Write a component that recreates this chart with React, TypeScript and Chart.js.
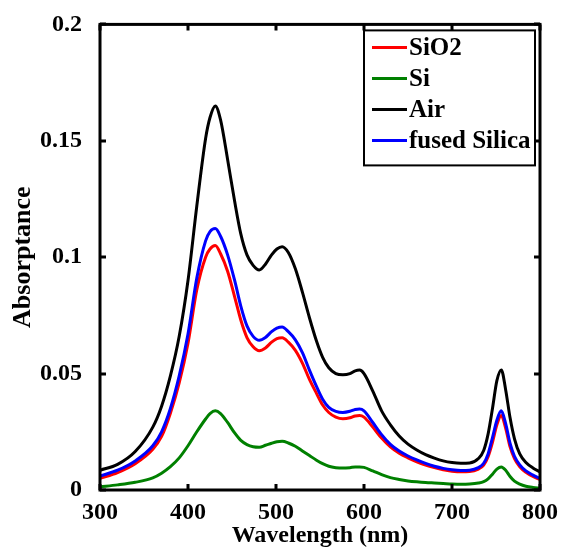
import { useEffect, useRef } from "react";
import { Chart, registerables } from "chart.js";

Chart.register(...registerables);

const wavelengths = [300, 320, 340, 360, 370, 380, 390, 400, 410, 420, 425, 431, 437, 445, 453, 460, 467, 474, 481, 488, 495, 501, 507, 514, 522, 530, 538, 546, 553, 560, 568, 576, 584, 590, 595, 600, 610, 620, 630, 640, 650, 660, 670, 680, 690, 700, 710, 720, 730, 736, 741, 746, 751, 756, 761, 766, 771, 777, 784, 792, 800];

const sio2 = [0.005, 0.0075, 0.0113, 0.0175, 0.023, 0.033, 0.046, 0.063, 0.086, 0.100, 0.1035, 0.105, 0.1015, 0.094, 0.083, 0.073, 0.0655, 0.0615, 0.0598, 0.061, 0.0635, 0.065, 0.0654, 0.0635, 0.060, 0.0545, 0.0475, 0.0415, 0.0365, 0.0333, 0.0313, 0.0306, 0.031, 0.0318, 0.032, 0.0313, 0.027, 0.0223, 0.0185, 0.0158, 0.0138, 0.0121, 0.0107, 0.0096, 0.0087, 0.0081, 0.0078, 0.0079, 0.009, 0.0107, 0.0143, 0.0205, 0.028, 0.032, 0.0265, 0.0185, 0.0135, 0.0100, 0.0076, 0.0058, 0.0045];
const si = [0.0014, 0.0022, 0.0033, 0.0052, 0.0072, 0.010, 0.0138, 0.019, 0.025, 0.0305, 0.0328, 0.034, 0.0328, 0.029, 0.0245, 0.0213, 0.0195, 0.0186, 0.0184, 0.0192, 0.0201, 0.0207, 0.0209, 0.0202, 0.0188, 0.0168, 0.0148, 0.0128, 0.0113, 0.0102, 0.0096, 0.0094, 0.0096, 0.0099, 0.0099, 0.0097, 0.0082, 0.0066, 0.0053, 0.0045, 0.0039, 0.0035, 0.0032, 0.003, 0.0028, 0.0026, 0.0025, 0.0026, 0.003, 0.0036, 0.0048, 0.0068, 0.009, 0.0099, 0.0085, 0.0058, 0.0038, 0.0025, 0.0016, 0.0011, 0.0008];
const air = [0.0085, 0.011, 0.0165, 0.027, 0.036, 0.049, 0.066, 0.090, 0.122, 0.151, 0.160, 0.165, 0.159, 0.142, 0.124, 0.110, 0.101, 0.0965, 0.0945, 0.097, 0.101, 0.1035, 0.1045, 0.102, 0.095, 0.085, 0.074, 0.064, 0.057, 0.0525, 0.050, 0.0495, 0.050, 0.0512, 0.0515, 0.050, 0.0425, 0.0340, 0.028, 0.0232, 0.0197, 0.0172, 0.0152, 0.0137, 0.0125, 0.0118, 0.0115, 0.0116, 0.0135, 0.017, 0.024, 0.035, 0.047, 0.0516, 0.043, 0.031, 0.022, 0.0155, 0.0118, 0.0095, 0.0078];
const fusedSilica = [0.006, 0.0085, 0.0125, 0.019, 0.025, 0.035, 0.049, 0.067, 0.091, 0.107, 0.111, 0.1123, 0.109, 0.101, 0.090, 0.079, 0.0705, 0.066, 0.0643, 0.0655, 0.068, 0.0695, 0.070, 0.068, 0.0645, 0.059, 0.0515, 0.0445, 0.039, 0.0355, 0.0338, 0.0333, 0.0338, 0.0346, 0.0348, 0.034, 0.029, 0.0238, 0.0196, 0.0167, 0.0146, 0.0129, 0.0114, 0.0102, 0.0093, 0.0087, 0.0084, 0.0085, 0.0096, 0.0115, 0.0155, 0.0225, 0.030, 0.034, 0.0285, 0.020, 0.0145, 0.0108, 0.0082, 0.0064, 0.005];

const seriesLabels = ["SiO2", "Si", "Air", "fused Silica"];
const seriesColors = ["#ff0000", "#008000", "#000000", "#0000ff"];
const seriesValues = [sio2, si, air, fusedSilica];

const xMin = 300;
const xMax = 800;
const xStep = 100;
const yMin = 0;
const yMax = 0.2;
const yStep = 0.05;

const xTitle = "Wavelength (nm)";
const yTitle = "Absorptance";

const FONT = "'Liberation Serif', 'Times New Roman', serif";

const frameAndTicks = {
  id: "frameAndTicks",
  afterDatasetsDraw(chart: any) {
    const { ctx, chartArea: ca, scales } = chart;
    ctx.save();
    ctx.strokeStyle = "#000";
    ctx.lineWidth = 3;
    ctx.lineCap = "butt";
    const tl = 6;
    ctx.beginPath();
    for (const t of scales.x.ticks) {
      const px = Math.round(scales.x.getPixelForValue(t.value));
      ctx.moveTo(px, ca.bottom);
      ctx.lineTo(px, ca.bottom - tl);
      ctx.moveTo(px, ca.top);
      ctx.lineTo(px, ca.top + tl);
    }
    for (const t of scales.y.ticks) {
      const py = Math.round(scales.y.getPixelForValue(t.value));
      ctx.moveTo(ca.left, py);
      ctx.lineTo(ca.left + tl, py);
      ctx.moveTo(ca.right, py);
      ctx.lineTo(ca.right - tl, py);
    }
    ctx.stroke();
    ctx.lineJoin = "miter";
    ctx.strokeRect(ca.left, ca.top, ca.right - ca.left, ca.bottom - ca.top);
    ctx.restore();
  },
  afterDraw(chart: any) {
    const { ctx, chartArea: ca } = chart;
    const boxW = 171;
    const boxH = 135;
    const bx = ca.right - 176;
    const by = ca.top + 6;
    ctx.save();
    ctx.fillStyle = "#fff";
    ctx.fillRect(bx, by, boxW, boxH);
    ctx.strokeStyle = "#000";
    ctx.lineWidth = 2;
    ctx.strokeRect(bx, by, boxW, boxH);
    ctx.font = `bold 25px ${FONT}`;
    ctx.textBaseline = "middle";
    ctx.textAlign = "left";
    chart.data.datasets.forEach((ds: any, i: number) => {
      const y = by + 17 + i * 31;
      ctx.strokeStyle = ds.borderColor;
      ctx.lineWidth = 3;
      ctx.beginPath();
      ctx.moveTo(bx + 8, y);
      ctx.lineTo(bx + 43, y);
      ctx.stroke();
      ctx.fillStyle = "#000";
      ctx.fillText(ds.label, bx + 45, y + 1);
    });
    ctx.restore();
  },
};

export default function App() {
  const ref = useRef<HTMLCanvasElement | null>(null);
  useEffect(() => {
    document.body.style.margin = "0";
    const canvas = ref.current;
    if (!canvas) return;
    const tickFont = { family: FONT, weight: "bold" as const, size: 24 };
    const chart = new Chart(canvas, {
      type: "line",
      data: {
        datasets: seriesLabels.map((label, i) => ({
          label,
          data: wavelengths.map((w, j) => ({ x: w, y: seriesValues[i][j] })),
          borderColor: seriesColors[i],
          backgroundColor: seriesColors[i],
          borderWidth: 3,
          pointRadius: 0,
          fill: false,
          cubicInterpolationMode: "monotone" as const,
          order: seriesLabels.length - i,
        })),
      },
      options: {
        responsive: false,
        animation: false,
        layout: { padding: { top: 21, right: 26, left: 0, bottom: 0 } },
        plugins: { legend: { display: false }, tooltip: { enabled: false } },
        scales: {
          x: {
            type: "linear",
            min: xMin,
            max: xMax,
            ticks: { stepSize: xStep, font: tickFont, color: "#000", padding: 0, maxRotation: 0 },
            grid: { display: false },
            border: { display: false },
            title: { display: true, text: xTitle, font: { family: FONT, weight: "bold", size: 24 }, color: "#000", padding: { top: 0, bottom: 0 } },
            afterFit: (s: any) => { s.height = 60; },
          },
          y: {
            type: "linear",
            min: yMin,
            max: yMax,
            ticks: {
              stepSize: yStep,
              font: tickFont,
              color: "#000",
              padding: 10,
              callback: (v: any) => String(parseFloat(Number(v).toFixed(3))),
            },
            grid: { display: false },
            border: { display: false },
            title: { display: true, text: yTitle, font: { family: FONT, weight: "bold", size: 26 }, color: "#000", padding: { top: 8, bottom: 0 } },
            afterFit: (s: any) => { s.width = 100; },
          },
        },
      },
      plugins: [frameAndTicks],
    });
    return () => chart.destroy();
  }, []);
  return (
    <div style={{ width: 566, height: 550, background: "#fff" }}>
      <canvas ref={ref} width={566} height={550} style={{ display: "block" }} />
    </div>
  );
}
